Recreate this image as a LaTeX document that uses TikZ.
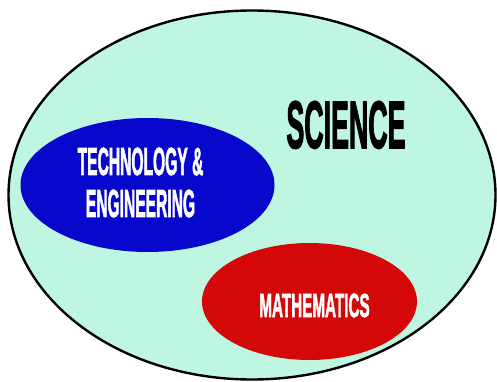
\documentclass[tikz,border=0pt]{standalone}
\usepackage{xcolor}
\usepackage{graphicx}
\usepackage{fontspec}
\setmainfont{Liberation Sans}
\newfontfamily\heavyfont{Liberation Sans Bold}[FakeBold=2.5]
\usepackage{tikz}
\usetikzlibrary{shapes.geometric}

\definecolor{mintfill}{RGB}{190,246,226}
\definecolor{techblue}{RGB}{8,8,204}
\definecolor{mathred}{RGB}{212,8,8}
\newcommand{\condense}[2]{\scalebox{#1}[1]{#2}}

\begin{document}
\begin{tikzpicture}[x=1pt, y=-1pt]
    \useasboundingbox (0,0) rectangle (497,382);
    \fill[white] (0,0) rectangle (497,382);

    \node[draw=black, line width=2.4pt, fill=mintfill, ellipse, inner sep=0pt, minimum width=487pt, minimum height=369pt] (science) at (252,195) {};
    \node[fill=techblue, ellipse, inner sep=0pt, minimum width=254pt, minimum height=134pt] (tech) at (147.5,185) {};
    \node[fill=mathred, ellipse, inner sep=0pt, minimum width=215pt, minimum height=117pt] (math) at (309.5,301.5) {};

    \node[anchor=base, inner sep=0pt, font=\heavyfont\fontsize{67}{70}\selectfont] (sciencetext) at (346,148) {\condense{0.40}{SCIENCE}};
    \node[text=white, align=center, inner sep=0pt, font=\heavyfont\fontsize{39}{42}\selectfont] (techtext) at (140.5,182.5) {\condense{0.40}{TECHNOLOGY \&}\\\condense{0.40}{ENGINEERING}};
    \node[text=white, anchor=base, inner sep=0pt, font=\heavyfont\fontsize{33.5}{36}\selectfont] (mathtext) at (314.5,317) {\condense{0.455}{MATHEMATICS}};
  \end{tikzpicture}
\end{document}
